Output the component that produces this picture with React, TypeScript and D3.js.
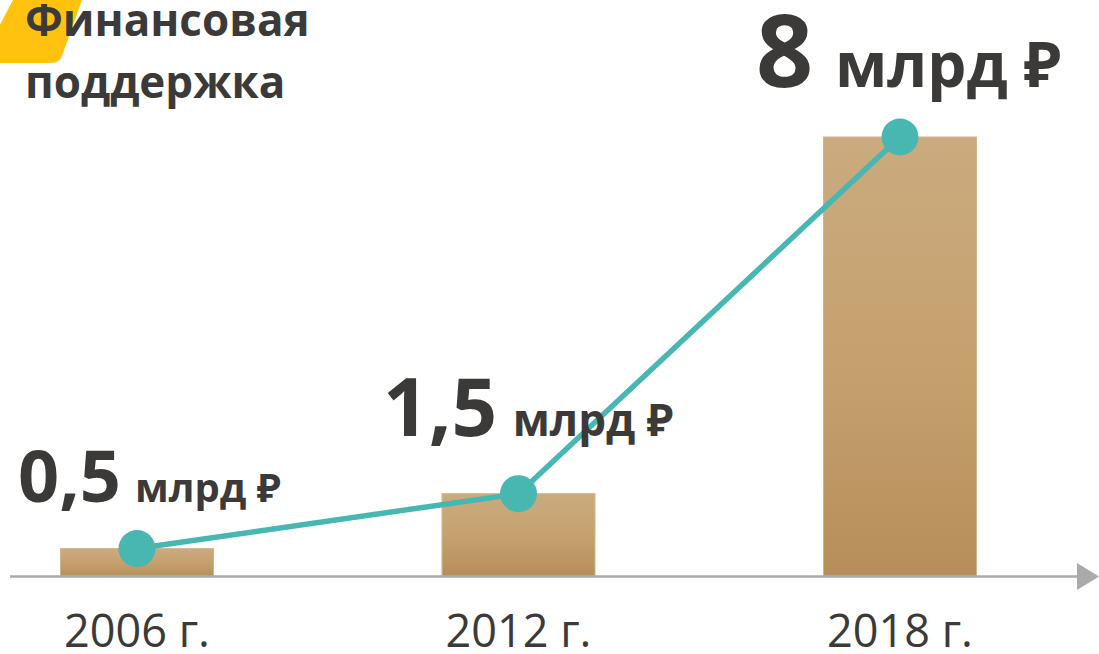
import React from "react";
import * as d3 from "d3";

const years = ["2006 г.", "2012 г.", "2018 г."];
const values = [0.5, 1.5, 8];
const valueLabels = ["0,5", "1,5", "8"];
const unitLabel = "млрд ₽";
const titleLines = ["Финансовая", "поддержка"];

const W = 1099;
const H = 654;
const TEXT = "#3C3A39";
const TEAL = "#48B7B2";
const FONT = "'Open Sans', 'Noto Sans', sans-serif";

// label styling per point (size of number, size of unit, offset from point)
const labelStyle = [
  { num: 72, unit: 40, x: 18, y: 502 },
  { num: 80, unit: 44, x: 383, y: 436 },
  { num: 100, unit: 62, x: 756, y: 87 },
];

export default function App() {
  const x = d3.scalePoint<string>().domain(years).range([137, 900]);
  const y = d3.scaleLinear().domain([0, 8]).range([576, 137]);
  const barW = 153;
  const line = d3
    .line<number>()
    .x((_, i) => x(years[i]) as number)
    .y((d) => y(d));

  return (
    <svg
      width={W}
      height={H}
      style={{ position: "absolute", left: 0, top: 0, display: "block", background: "#fff" }}
    >
      <defs>
        <linearGradient id="barGrad" x1="0" y1="0" x2="0" y2="1">
          <stop offset="0%" stopColor="#CAAB7F" />
          <stop offset="55%" stopColor="#C5A06D" />
          <stop offset="100%" stopColor="#B68E59" />
        </linearGradient>
      </defs>

      {/* yellow accent */}
      <path d="M13,0 L82,0 L62,56 Q59,63 52,63 L-20,63 Z" fill="#FFC20E" />

      {/* title */}
      <text fontFamily={FONT} fontWeight={700} fontSize={44} fill={TEXT}>
        <tspan x={25} y={36}>{titleLines[0]}</tspan>
        <tspan x={25} y={98}>{titleLines[1]}</tspan>
      </text>

      {/* bars */}
      {values.map((v, i) => (
        <rect
          key={years[i]}
          x={(x(years[i]) as number) - barW / 2}
          y={y(v)}
          width={barW}
          height={y(0) - y(v)}
          fill="url(#barGrad)"
          stroke="#D2B68B"
          strokeWidth={1}
        />
      ))}

      {/* axis */}
      <line x1={10} x2={1080} y1={576.5} y2={576.5} stroke="#AAAAAA" strokeWidth={2.5} />
      <path d="M1077,563 L1099,576.5 L1077,590 Z" fill="#AAAAAA" />

      {/* line */}
      <path d={line(values) || ""} fill="none" stroke={TEAL} strokeWidth={5.5} />
      {values.map((v, i) => (
        <circle key={"c" + i} cx={x(years[i]) as number} cy={y(v)} r={18.5} fill={TEAL} />
      ))}

      {/* value labels */}
      {values.map((v, i) => (
        <text
          key={"l" + i}
          x={labelStyle[i].x}
          y={labelStyle[i].y}
          fontFamily={FONT}
          fontWeight={700}
          fill={TEXT}
        >
          <tspan fontSize={labelStyle[i].num}>{valueLabels[i]}</tspan>
          <tspan fontSize={labelStyle[i].unit} dx={labelStyle[i].unit * 0.35}>
            {unitLabel}
          </tspan>
        </text>
      ))}

      {/* year labels */}
      {years.map((yr) => (
        <text
          key={yr}
          x={x(yr) as number}
          y={647}
          textAnchor="middle"
          fontFamily={FONT}
          fontSize={45}
          fill={TEXT}
        >
          {yr}
        </text>
      ))}
    </svg>
  );
}
